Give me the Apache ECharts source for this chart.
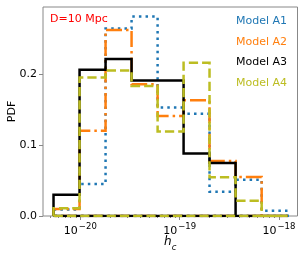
<!DOCTYPE html>
<html><head><meta charset="utf-8">
<script src="https://cdn.jsdelivr.net/npm/echarts@6/dist/echarts.min.js"></script>
<style>html,body{margin:0;padding:0;background:#fff}#c{width:307px;height:253px}</style>
</head><body><div id="c"></div>
<script>
// ---- data ----
const binEdges = [5.37e-21, 9.82e-21, 1.795e-20, 3.28e-20, 6.0e-20, 1.096e-19, 2.0e-19, 3.66e-19, 6.7e-19, 1.225e-18];
const modelNames = ['Model A1', 'Model A2', 'Model A3', 'Model A4'];
const pdfA1 = [0.009, 0.045, 0.264, 0.281, 0.153, 0.144, 0.034, 0.051, 0.0075];
const pdfA2 = [0.010, 0.120, 0.262, 0.1855, 0.141, 0.163, 0.0775, 0.055, 0];
const pdfA3 = [0.030, 0.206, 0.221, 0.191, 0.191, 0.088, 0.0746, 0, 0];
const pdfA4 = [0.011, 0.195, 0.205, 0.183, 0.119, 0.216, 0.0545, 0.0216, 0];
const majorTicks = [1e-20, 1e-19, 1e-18];
const minorTicks = [5e-21, 6e-21, 7e-21, 8e-21, 9e-21,
  2e-20, 3e-20, 4e-20, 5e-20, 6e-20, 7e-20, 8e-20, 9e-20,
  2e-19, 3e-19, 4e-19, 5e-19, 6e-19, 7e-19, 8e-19, 9e-19];
const yTicks = [0.0, 0.1, 0.2];
const annotation = 'D=10 Mpc';

// ---- styling ----
const colors = ['#1f77b4', '#ff7f0e', '#000000', '#bcbd22'];
const lw = 2.5;
const dashes = [[1 * lw, 1.65 * lw], [6.4 * lw, 1.6 * lw, 1 * lw, 1.6 * lw], null, [3.7 * lw, 1.6 * lw]];
const FONT = 'DejaVu Sans';
const L = Math.log10;

function stepPath(edges, vals) {
  const pts = [[L(edges[0]), 0]];
  for (let i = 0; i < vals.length; i++) {
    pts.push([L(edges[i]), vals[i]]);
    pts.push([L(edges[i + 1]), vals[i]]);
  }
  pts.push([L(edges[edges.length - 1]), 0]);
  pts.push([L(edges[0]), 0]);
  return pts;
}

const allPdf = [pdfA1, pdfA2, pdfA3, pdfA4];
const series = allPdf.map((v, i) => ({
  name: modelNames[i],
  type: 'line',
  data: stepPath(binEdges, v),
  symbol: 'none',
  z: 2 + i,
  lineStyle: { color: colors[i], width: lw, type: dashes[i] || 'solid', cap: 'butt', join: 'miter' },
  itemStyle: { color: colors[i] }
}));

const xMin = -20.376, xMax = -17.813;
const chart = echarts.init(document.getElementById('c'), null, { renderer: 'canvas' });
chart.setOption({
  animation: false,
  textStyle: { fontFamily: FONT },
  grid: { left: 43, right: 9.5, top: 7, bottom: 37, outerBoundsMode: 'none', containLabel: false, show: true, borderColor: '#888', borderWidth: 1, backgroundColor: 'transparent' },
  xAxis: [{
    type: 'value', min: xMin, max: xMax,
    axisLine: { show: false },
    splitLine: { show: false },
    axisTick: { show: true, length: 4, lineStyle: { color: '#888' }, customValues: majorTicks.map(L) },
    axisLabel: {
      customValues: majorTicks.map(L), margin: 6, color: '#000',
      formatter: v => '{b|10}{s|\u2212' + Math.abs(Math.round(v)) + '}',
      rich: {
        b: { fontSize: 11, fontFamily: FONT, color: '#000', verticalAlign: 'bottom', lineHeight: 15 },
        s: { fontSize: 8.5, fontFamily: FONT, color: '#000', verticalAlign: 'top', lineHeight: 15, padding: [0, 0, 0, 1] }
      }
    },
    name: '{i|h}{c|c}', nameLocation: 'middle', nameGap: 20, nameMoveOverlap: false,
    nameTextStyle: {
      rich: {
        i: { fontSize: 12, fontStyle: 'italic', fontFamily: FONT, color: '#000', verticalAlign: 'top', lineHeight: 14 },
        c: { fontSize: 8.5, fontStyle: 'italic', fontFamily: FONT, color: '#000', verticalAlign: 'bottom', lineHeight: 16 }
      }
    }
  }, {
    type: 'value', min: xMin, max: xMax, position: 'bottom',
    axisLine: { show: false }, splitLine: { show: false },
    axisLabel: { show: false },
    axisTick: { show: true, length: 2, lineStyle: { color: '#888' }, customValues: minorTicks.map(L) }
  }],
  yAxis: {
    type: 'value', min: 0, max: 0.2944, interval: 0.1,
    axisLine: { show: false },
    splitLine: { show: false },
    axisTick: { show: true, length: 4, lineStyle: { color: '#888' }, customValues: yTicks },
    axisLabel: { customValues: yTicks, margin: 6, fontSize: 11, color: '#000', fontFamily: FONT, formatter: v => v.toFixed(1) },
    name: 'PDF', nameLocation: 'middle', nameGap: 25, nameRotate: 90, nameMoveOverlap: false,
    nameTextStyle: { fontSize: 11, color: '#000', fontFamily: FONT }
  },
  legend: {
    orient: 'vertical', right: 15, top: 9, padding: 5,
    icon: 'none', itemWidth: 0, itemHeight: 14, itemGap: 6.7,
    textStyle: { fontSize: 11, fontFamily: FONT, lineHeight: 14 },
    data: modelNames.map((n, i) => ({ name: n, textStyle: { color: colors[i] } })),
    selectedMode: false
  },
  graphic: [{
    type: 'text', left: 50, top: 14,
    style: { text: annotation, fill: '#ff0000', fontSize: 11, fontFamily: FONT }
  }],
  series: series
});
</script></body></html>
